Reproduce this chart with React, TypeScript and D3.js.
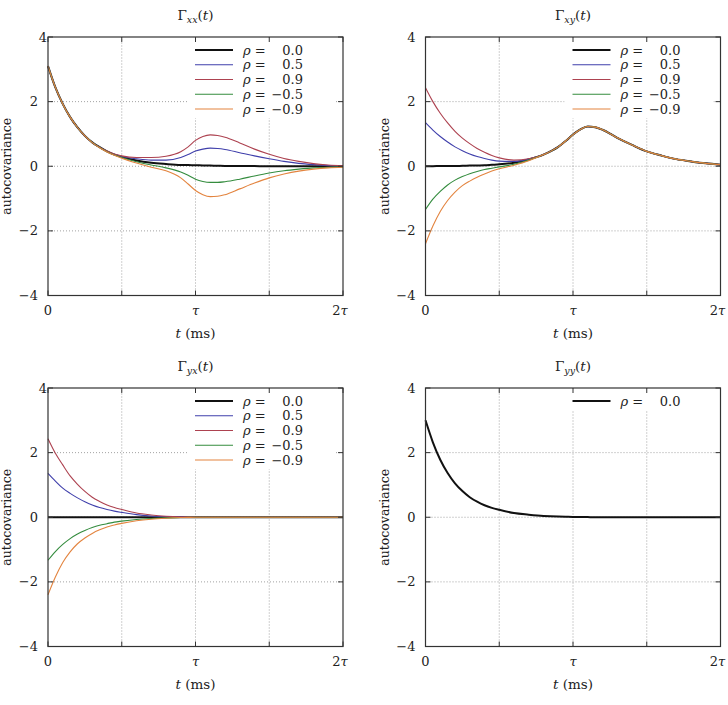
import React from 'react'
import { scaleLinear, line, curveMonotoneX } from 'd3'

// time axis in units of tau
const T = [0, 0.05, 0.1, 0.15, 0.2, 0.25, 0.3, 0.35, 0.4, 0.45, 0.5, 0.6, 0.7, 0.8, 0.9, 0.95, 1.0, 1.05, 1.1, 1.15, 1.2, 1.3, 1.4, 1.5, 1.6, 1.7, 1.8, 1.9, 2.0]

const rhoLabels = ['0.0', '0.5', '0.9', '\u22120.5', '\u22120.9']
const colors = ['#111111', '#3f3fab', '#ad4250', '#348c3e', '#e3843f']
const widths = [2, 1.1, 1.1, 1.1, 1.1]

const xxRho00 = [3.10, 2.44, 1.93, 1.52, 1.20, 0.94, 0.74, 0.59, 0.46, 0.36, 0.29, 0.18, 0.11, 0.07, 0.04, 0.035, 0.03, 0.025, 0.02, 0.015, 0.01, 0.01, 0.005, 0, 0, 0, 0, 0, 0]
const xxRho05 = [3.10, 2.44, 1.93, 1.52, 1.20, 0.94, 0.74, 0.59, 0.46, 0.37, 0.30, 0.23, 0.19, 0.19, 0.27, 0.36, 0.47, 0.53, 0.56, 0.55, 0.52, 0.42, 0.32, 0.23, 0.15, 0.09, 0.05, 0.02, 0.01]
const xxRho09 = [3.10, 2.44, 1.93, 1.52, 1.20, 0.94, 0.74, 0.59, 0.47, 0.38, 0.32, 0.27, 0.27, 0.31, 0.45, 0.60, 0.80, 0.92, 0.97, 0.95, 0.90, 0.72, 0.53, 0.37, 0.24, 0.15, 0.08, 0.04, 0.02]
const xxRhoM05 = [3.10, 2.44, 1.93, 1.52, 1.20, 0.94, 0.74, 0.58, 0.45, 0.35, 0.27, 0.14, 0.04, -0.05, -0.18, -0.28, -0.40, -0.47, -0.50, -0.50, -0.48, -0.40, -0.30, -0.21, -0.14, -0.09, -0.05, -0.03, -0.02]
const xxRhoM09 = [3.10, 2.44, 1.93, 1.52, 1.20, 0.94, 0.73, 0.57, 0.44, 0.34, 0.25, 0.10, -0.03, -0.14, -0.36, -0.55, -0.75, -0.88, -0.94, -0.93, -0.88, -0.70, -0.52, -0.36, -0.24, -0.15, -0.09, -0.05, -0.03]

const xyRho00 = [0, 0.003, 0.005, 0.008, 0.01, 0.013, 0.02, 0.025, 0.03, 0.045, 0.06, 0.11, 0.21, 0.36, 0.60, 0.78, 0.98, 1.14, 1.23, 1.21, 1.13, 0.88, 0.66, 0.46, 0.33, 0.22, 0.15, 0.09, 0.05]
const xyRho05 = [1.35, 1.12, 0.92, 0.75, 0.60, 0.48, 0.38, 0.30, 0.24, 0.19, 0.16, 0.15, 0.22, 0.36, 0.60, 0.78, 0.98, 1.14, 1.23, 1.21, 1.13, 0.88, 0.66, 0.46, 0.33, 0.22, 0.15, 0.09, 0.05]
const xyRho09 = [2.43, 2.00, 1.64, 1.34, 1.08, 0.87, 0.70, 0.55, 0.43, 0.33, 0.26, 0.19, 0.23, 0.36, 0.60, 0.78, 0.98, 1.14, 1.23, 1.21, 1.13, 0.88, 0.66, 0.46, 0.33, 0.22, 0.15, 0.09, 0.05]
const xyRhoM05 = [-1.34, -1.02, -0.78, -0.58, -0.43, -0.32, -0.23, -0.16, -0.10, -0.06, -0.02, 0.06, 0.19, 0.36, 0.60, 0.78, 0.98, 1.14, 1.23, 1.21, 1.13, 0.88, 0.66, 0.46, 0.33, 0.22, 0.15, 0.09, 0.05]
const xyRhoM09 = [-2.40, -1.85, -1.40, -1.06, -0.80, -0.60, -0.46, -0.34, -0.24, -0.15, -0.08, 0.03, 0.17, 0.36, 0.60, 0.78, 0.98, 1.14, 1.23, 1.21, 1.13, 0.88, 0.66, 0.46, 0.33, 0.22, 0.15, 0.09, 0.05]

const yxRho00 = [0, 0, 0, 0, 0, 0, 0, 0, 0, 0, 0, 0, 0, 0, 0, 0, 0, 0, 0, 0, 0, 0, 0, 0, 0, 0, 0, 0, 0]
const yxRho05 = [1.36, 1.12, 0.90, 0.74, 0.60, 0.48, 0.38, 0.30, 0.24, 0.19, 0.15, 0.08, 0.04, 0.02, 0.01, 0.005, 0, 0, 0, 0, 0, 0, 0, 0, 0, 0, 0, 0, 0]
const yxRho09 = [2.43, 1.98, 1.62, 1.28, 1.02, 0.80, 0.62, 0.49, 0.38, 0.30, 0.24, 0.13, 0.07, 0.03, 0.01, 0.005, 0, 0, 0, 0, 0, 0, 0, 0, 0, 0, 0, 0, 0]
const yxRhoM05 = [-1.33, -1.06, -0.84, -0.66, -0.52, -0.41, -0.32, -0.25, -0.20, -0.15, -0.12, -0.07, -0.04, -0.02, -0.01, -0.005, 0, 0, 0, 0, 0, 0, 0, 0, 0, 0, 0, 0, 0]
const yxRhoM09 = [-2.40, -1.85, -1.40, -1.07, -0.82, -0.64, -0.50, -0.39, -0.30, -0.24, -0.19, -0.11, -0.06, -0.03, -0.01, -0.005, 0, 0, 0, 0, 0, 0, 0, 0, 0, 0, 0, 0, 0]

const yyRho00 = [3.00, 2.32, 1.78, 1.37, 1.05, 0.81, 0.62, 0.48, 0.37, 0.29, 0.23, 0.13, 0.08, 0.04, 0.02, 0.015, 0.01, 0.01, 0.005, 0, 0, 0, 0, 0, 0, 0, 0, 0, 0]

const yTicks = [-4, -2, 0, 2, 4]
const yGrid = [-2, 0, 2]
const xTicks = [0, 0.5, 1, 1.5, 2]
const xGrid = [0.5, 1, 1.5]
const xLabels = [
  { v: 0, pre: '0', tau: false },
  { v: 1, pre: '', tau: true },
  { v: 2, pre: '2', tau: true },
]

const panels = [
  { sub: 'xx', series: [xxRho00, xxRho05, xxRho09, xxRhoM05, xxRhoM09], left: 48, top: 37 },
  { sub: 'xy', series: [xyRho00, xyRho05, xyRho09, xyRhoM05, xyRhoM09], left: 425.5, top: 37 },
  { sub: 'yx', series: [yxRho00, yxRho05, yxRho09, yxRhoM05, yxRhoM09], left: 48, top: 388 },
  { sub: 'yy', series: [yyRho00], left: 425.5, top: 388 },
]

const W = 295
const H = 258.5
const font = '"DejaVu Serif", serif'
const ink = '#222'

const Panel = ({ p, idx }) => {
  const x = scaleLinear().domain([0, 2]).range([p.left, p.left + W])
  const y = scaleLinear().domain([-4, 4]).range([p.top + H, p.top])
  const path = line().x((d) => x(d[0])).y((d) => y(d[1])).curve(curveMonotoneX)
  const rows = p.series.length
  const keyTop = p.top + 1.5
  const rowH = 14.75
  const boxLeft = p.left + 139
  const isLeft = idx % 2 === 0
  return (
    <g>
      {/* grid */}
      {xGrid.map((v) => (
        <line key={'gx' + v} x1={x(v)} x2={x(v)} y1={y(-4)} y2={y(4)} stroke="#8a8a8a" strokeWidth={0.8} strokeDasharray="1,2" />
      ))}
      {yGrid.map((v) => (
        <line key={'gy' + v} x1={x(0)} x2={x(2)} y1={y(v)} y2={y(v)} stroke="#8a8a8a" strokeWidth={0.8} strokeDasharray="1,2" />
      ))}
      {/* key background */}
      <rect x={boxLeft} y={keyTop} width={p.left + W - 7 - boxLeft} height={rows * rowH + 6} fill="#fff" />
      {/* curves */}
      {p.series.map((s, i) => (
        <path key={'s' + i} d={path(T.map((t, j) => [t, s[j]]))} fill="none" stroke={colors[i]} strokeWidth={widths[i]} strokeLinejoin="round" />
      ))}
      {/* legend */}
      {p.series.map((s, i) => {
        const cy = keyTop + 11.5 + i * rowH
        return (
          <g key={'k' + i}>
            <line x1={p.left + 147} x2={p.left + 185} y1={cy} y2={cy} stroke={colors[i]} strokeWidth={widths[i]} />
            <text x={p.left + 195} y={cy + 4.5} fontFamily={font} fontSize={13} fill={ink}>
              <tspan fontStyle="italic">{'\u03C1'}</tspan> =
            </text>
            <text x={p.left + 255} y={cy + 4.5} fontFamily={font} fontSize={13} fill={ink} textAnchor="end">
              {rhoLabels[i]}
            </text>
          </g>
        )
      })}
      {/* frame and ticks */}
      <rect x={p.left} y={p.top} width={W} height={H} fill="none" stroke="#333" strokeWidth={1.2} />
      {xTicks.map((v) => (
        <g key={'tx' + v}>
          <line x1={x(v)} x2={x(v)} y1={y(-4)} y2={y(-4) - 5} stroke="#333" />
          <line x1={x(v)} x2={x(v)} y1={y(4)} y2={y(4) + 5} stroke="#333" />
        </g>
      ))}
      {yTicks.map((v) => (
        <g key={'ty' + v}>
          <line x1={x(0)} x2={x(0) + 5} y1={y(v)} y2={y(v)} stroke="#333" />
          <line x1={x(2)} x2={x(2) - 5} y1={y(v)} y2={y(v)} stroke="#333" />
          <text
            x={x(0) - 10 + (isLeft && v === 4 ? 9 : 0)}
            y={y(v) + 4.5}
            fontFamily={font}
            fontSize={13}
            fill={ink}
            textAnchor="end"
          >
            {v < 0 ? '\u2212' + Math.abs(v) : String(v)}
          </text>
        </g>
      ))}
      {xLabels.map((l) => (
        <text key={'xl' + l.v} x={x(l.v) - (l.v === 2 ? 3 : 0)} y={p.top + H + 19} fontFamily={font} fontSize={13} fill={ink} textAnchor="middle">
          {l.pre}
          {l.tau ? <tspan fontStyle="italic">{'\u03C4'}</tspan> : null}
        </text>
      ))}
      {/* axis labels */}
      <text x={x(1)} y={p.top + H + 42.5} fontFamily={font} fontSize={13.5} fill={ink} textAnchor="middle">
        <tspan fontStyle="italic">t</tspan> (ms)
      </text>
      <text
        transform={`translate(${p.left - 37},${(y(4) + y(-4)) / 2}) rotate(-90)`}
        fontFamily={font}
        fontSize={12.5}
        fill={ink}
        textAnchor="middle"
      >
        autocovariance
      </text>
      {/* title */}
      <text x={x(1)} y={p.top - 17} fontFamily={font} fontSize={13.5} fill={ink} textAnchor="middle">
        {'\u0393'}
        <tspan fontStyle="italic" fontSize={9.5} dy={3}>{p.sub}</tspan>
        <tspan dy={-3}>(</tspan>
        <tspan fontStyle="italic">t</tspan>)
      </text>
    </g>
  )
}

export default function App() {
  return (
    <svg width={728} height={705} style={{ position: 'absolute', left: 0, top: 0, background: '#fff' }}>
      {panels.map((p, i) => (
        <Panel key={p.sub} p={p} idx={i} />
      ))}
    </svg>
  )
}
